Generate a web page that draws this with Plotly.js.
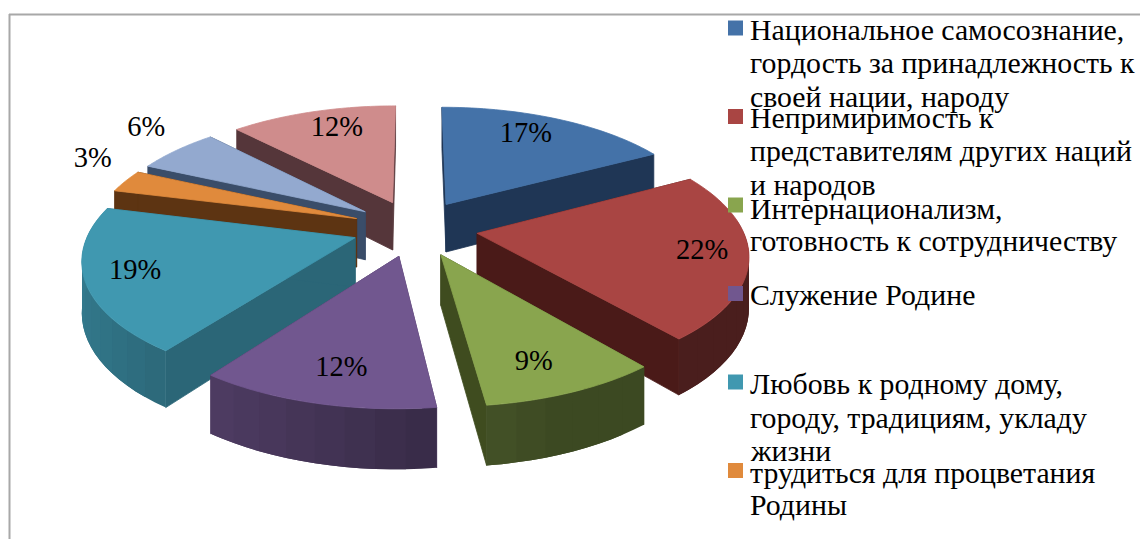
<!DOCTYPE html>
<html><head><meta charset="utf-8">
<script src="https://cdn.plot.ly/plotly-3.0.1.min.js"></script>
<style>html,body{margin:0;padding:0;background:#fff;overflow:hidden}#c{width:1140px;height:539px}</style>
</head><body><div id="c"></div>
<script>
// ---- data ----
const values = [17, 22, 9, 12, 19, 3, 6, 12];
const legendLines = [
  ["Национальное самосознание,", "гордость за принадлежность к", "своей нации, народу"],
  ["Непримиримость к", "представителям других наций", "и народов"],
  ["Интернационализм,", "готовность к сотрудничеству"],
  ["Служение Родине"],
  ["Любовь к родному дому,", "городу, традициям, укладу", "жизни"],
  ["трудиться для процветания", "Родины"]
];
// ---- styles ----
const topColors  = ["#4472a8","#a94543","#89a54e","#71578f","#4098b0","#e08a3c","#93a9cf","#cf8c8c"];
const wallColors = ["#1f3655","#4a1a18","#3f4c1f","#4a3560","#2b6677","#5d3412","#3a4d69","#55363a"];
const drawOrder  = [7, 0, 6, 5, 4, 1, 2, 3];
const labelAngle  = [26.2, 97.7, 157.8, 193.6, 253.5, 298, 311.3, 342];
const labelRadius = [0.812, 0.832, 0.767, 0.756, 0.816, 1.269, 1.304, 0.82];
const legendBaselines = [[39,72,106],[127,160,194],[218,250],[304],[393,427,460],[482,514]];
const markerY = [28, 116.5, 205, 293.5, 382, 470.5];

// ---- 3D projection of the exploded pie ----
const CX = 415, CY = 228, RX = 265, RY = 119, DEPTH = 49, PERSP = 0.155, EXPLODE = 0.237;
const rad = d => d * Math.PI / 180;
function project(mid, theta, r, z) {
  const u = EXPLODE * Math.sin(rad(mid)) + r * Math.sin(rad(theta));
  const v = -EXPLODE * Math.cos(rad(mid)) - r * Math.cos(rad(theta));
  const w = 1 / (1 - PERSP * v);
  return [CX + RX * u * w, CY + RY * v * w + z * DEPTH * w];
}
function hexMix(hex, f) {
  const n = parseInt(hex.slice(1), 16);
  return "rgb(" + [(n >> 16) & 255, (n >> 8) & 255, n & 255].map(c => Math.round(c * f)).join(",") + ")";
}
function poly(pts, color, lw) {
  return { type: "scatter", mode: "lines", x: pts.map(p => p[0]).concat(pts[0][0]), y: pts.map(p => p[1]).concat(pts[0][1]),
    fill: "toself", fillcolor: color, line: { color: color, width: lw === undefined ? 0.8 : lw, simplify: false }, hoverinfo: "skip", showlegend: false };
}
const total = values.reduce((a, b) => a + b, 0);
const starts = []; let acc = 0;
values.forEach(v => { starts.push(acc / total * 360); acc += v; });
const shade = t => Math.max(0.44, 0.53 - 0.27 * Math.sin(rad(t)));
const traces = [];
drawOrder.forEach(i => {
  const a0 = starts[i], a1 = a0 + values[i] / total * 360, mid = (a0 + a1) / 2;
  [a0, a1].forEach(a => traces.push(poly([project(mid,a,0,0),project(mid,a,1,0),project(mid,a,1,1),project(mid,a,0,1)], wallColors[i])));
  // outer wall: one shaded band per step, each laid over the previous with an overlap
  const n = Math.max(4, Math.ceil((a1 - a0) / 6));
  for (let k = 0; k < n; k++) {
    const t0 = a0 + (a1 - a0) * k / n, t1 = a0 + (a1 - a0) * (k + 1) / n;
    if (Math.cos(rad((t0 + t1) / 2)) > 0.15) continue;
    const tEnd = Math.min(a1, t1 + (a1 - a0) / n);
    const edge = [];
    for (let s = 0; s <= 4; s++) edge.push(project(mid, t0 + (tEnd - t0) * s / 4, 1, 0));
    for (let s = 4; s >= 0; s--) edge.push(project(mid, t0 + (tEnd - t0) * s / 4, 1, 1));
    traces.push(poly(edge, hexMix(topColors[i], shade((t0 + t1) / 2)), 0));
  }
  const pts = [project(mid, a0, 0, 0)];
  for (let k = 0; k <= 40; k++) pts.push(project(mid, a0 + (a1 - a0) * k / 40, 1, 0));
  traces.push(poly(pts, topColors[i]));
});
// percent labels
const lab = values.map((v, i) => project(starts[i] + v / total * 180, labelAngle[i], labelRadius[i], 0.1));
traces.push({ type: "scatter", mode: "text", x: lab.map(p => p[0]), y: lab.map(p => p[1]),
  text: values.map(v => v + "%"), textposition: "middle center",
  textfont: { family: "Liberation Serif", size: 28.5, color: "#000" }, hoverinfo: "skip", showlegend: false });
// legend keys
traces.push({ type: "scatter", mode: "markers", x: markerY.map(() => 735.5), y: markerY,
  marker: { symbol: "square", size: 15, color: topColors.slice(0, 6), line: { width: 0 } }, hoverinfo: "skip", showlegend: false });

const annotations = [];
legendLines.forEach((lines, i) => lines.forEach((t, j) => annotations.push({
  x: 750, y: legendBaselines[i][j] - 10, xref: "x", yref: "y", text: t, showarrow: false,
  xanchor: "left", yanchor: "middle", xshift: -2, align: "left",
  font: { family: "Liberation Serif", size: 29.8, color: "#000" }
})));
const gray = { color: "#a8a8a8", width: 2 };
const layout = {
  width: 1140, height: 539, margin: { l: 0, r: 0, t: 0, b: 0 }, paper_bgcolor: "#fff", plot_bgcolor: "#fff",
  xaxis: { range: [0, 1140], visible: false, fixedrange: true },
  yaxis: { range: [539, 0], visible: false, fixedrange: true },
  showlegend: false, annotations,
  shapes: [
    { type: "line", x0: 9, x1: 1140, y0: 14.5, y1: 14.5, line: gray },
    { type: "line", x0: 9.5, x1: 9.5, y0: 14, y1: 539, line: gray }
  ]
};
Plotly.newPlot("c", traces, layout, { staticPlot: true, displayModeBar: false });
</script></body></html>
